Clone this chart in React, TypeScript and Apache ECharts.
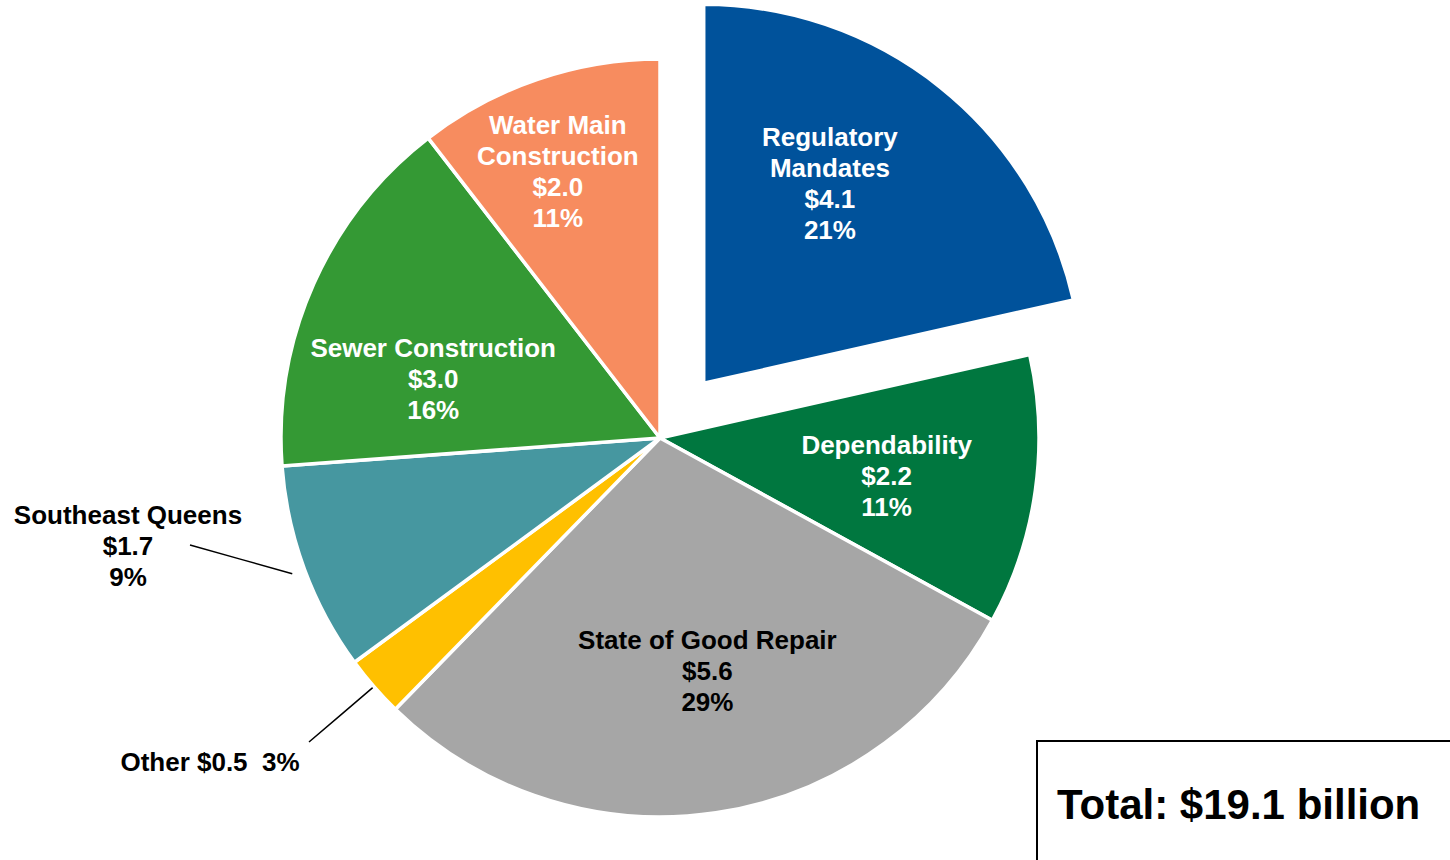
import React, { useEffect, useRef } from "react";
import * as echarts from "echarts";

// ---- data ----
const categories = [
  "Regulatory Mandates",
  "Dependability",
  "State of Good Repair",
  "Other",
  "Southeast Queens",
  "Sewer Construction",
  "Water Main Construction",
];
const labelNames = [
  "Regulatory\nMandates",
  "Dependability",
  "State of Good Repair",
  "Other",
  "Southeast Queens",
  "Sewer Construction",
  "Water Main\nConstruction",
];
const values = [4.1, 2.2, 5.6, 0.5, 1.7, 3.0, 2.0];
const percentLabels = ["21%", "11%", "29%", "3%", "9%", "16%", "11%"];
const explodedIndex = 0;

// ---- styling / layout ----
const colors = ["#00529B", "#00773F", "#A6A6A6", "#FFC000", "#4697A0", "#349934", "#F78C5F"];
const labelColors = ["#fff", "#fff", "#000", "#000", "#000", "#fff", "#fff"];
const CENTER = [660, 438];
const RADIUS = 379;
const FONT = "'Liberation Sans', Arial, Helvetica, sans-serif";
// shift of inside labels from their default spot
const insideShift: Record<number, [number, number]> = {
  0: [6, -49],
  1: [36, 11],
  2: [19, 43],
  5: [-51, 19],
  6: [-40, -84],
};
// outside labels: label centre, leader-line start, leader extension past the rim
const outsideLayout: Record<number, { x: number; y: number; lx: number; ly: number; ext: number }> = {
  3: { x: 210, y: 762, lx: 309, ly: 742, ext: -3 },
  4: { x: 128, y: 546, lx: 190, ly: 545, ext: 13 },
};

export default function App() {
  const ref = useRef<HTMLDivElement>(null);
  useEffect(() => {
    if (!ref.current) return;
    const chart = echarts.init(ref.current, undefined, { renderer: "svg" });
    const total = values.reduce((a, b) => a + b, 0);
    // bisector angles (degrees clockwise from 12 o'clock)
    const mids: number[] = [];
    let acc = 0;
    values.forEach((v) => {
      const span = (v / total) * 360;
      mids.push(acc + span / 2);
      acc += span;
    });

    const data = categories.map((name, i) => {
      const isOutside = outsideLayout[i] !== undefined;
      const text =
        i === 3
          ? `${labelNames[i]} $${values[i].toFixed(1)}  ${percentLabels[i]}`
          : `${labelNames[i]}\n$${values[i].toFixed(1)}\n${percentLabels[i]}`;
      return {
        name,
        value: values[i],
        selected: i === explodedIndex,
        itemStyle: { color: colors[i] },
        label: {
          position: isOutside ? "outside" : "inside",
          formatter: text,
          color: labelColors[i],
        },
        labelLine: {
          show: isOutside,
          lineStyle: { color: "#000", width: 1.5 },
        },
      };
    });

    chart.setOption({
      animation: false,
      backgroundColor: "#fff",
      graphic: [
        {
          type: "rect",
          shape: { x: 1037, y: 741, width: 430, height: 140 },
          style: { fill: "#fff", stroke: "#000", lineWidth: 2 },
        },
        {
          type: "text",
          x: 1057,
          y: 804,
          style: {
            text: `Total: $${total.toFixed(1)} billion`,
            font: `bold 42px ${FONT}`,
            fill: "#000",
            verticalAlign: "middle",
            align: "left",
          },
        },
      ],
      series: [
        {
          type: "pie",
          center: CENTER,
          radius: RADIUS,
          startAngle: 90,
          clockwise: true,
          selectedMode: "single",
          selectedOffset: 70,
          avoidLabelOverlap: false,
          emphasis: { disabled: true },
          itemStyle: { borderColor: "#fff", borderWidth: 3.5 },
          label: {
            fontFamily: FONT,
            fontWeight: "bold",
            fontSize: 26,
            lineHeight: 31,
            align: "center",
          },
          labelLayout: (params: any) => {
            const i = params.dataIndex;
            if (insideShift[i]) {
              return { dx: insideShift[i][0], dy: insideShift[i][1] };
            }
            const o = outsideLayout[i];
            if (o) {
              const th = (mids[i] * Math.PI) / 180;
              const rr = RADIUS + o.ext;
              const px = CENTER[0] + rr * Math.sin(th);
              const py = CENTER[1] - rr * Math.cos(th);
              return {
                x: o.x,
                y: o.y,
                align: "center",
                verticalAlign: "middle",
                labelLinePoints: [
                  [o.lx, o.ly],
                  [(o.lx + px) / 2, (o.ly + py) / 2],
                  [px, py],
                ],
              };
            }
            return {};
          },
          data,
        },
      ],
    });
    return () => chart.dispose();
  }, []);
  return (
    <div
      ref={ref}
      style={{ position: "absolute", left: 0, top: 0, width: 1450, height: 860 }}
    />
  );
}
